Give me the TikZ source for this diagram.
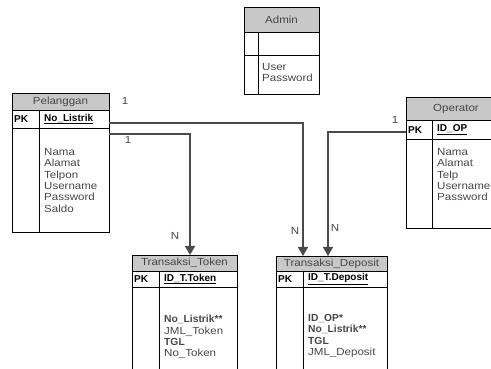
\documentclass[tikz,border=0pt]{standalone}
\usepackage{fontspec}
\newfontfamily\erfont[FakeStretch=1.12]{Liberation Sans}
\newfontfamily\erbold{Liberation Sans}
\usetikzlibrary{positioning, arrows.meta}
\definecolor{hdrgray}{RGB}{200,200,200}
\definecolor{ink}{RGB}{70,70,70}
\definecolor{linegray}{RGB}{75,75,75}

\begin{document}
\begin{tikzpicture}[x=1pt, y=-1pt,
  hdr/.style={draw, fill=hdrgray, anchor=north west, inner sep=0pt, outer sep=0pt,
              line width=0.8pt, font=\erfont\fontsize{10.3}{11}\selectfont, text=ink},
  row/.style={draw, anchor=north west, inner sep=0pt, outer sep=0pt, line width=0.8pt},
  key/.style={anchor=west, inner sep=0pt, font=\erbold\bfseries\fontsize{10}{11}\selectfont},
  attr/.style={anchor=north west, align=left, inner sep=0pt,
               font=\erfont\fontsize{10.3}{11.4}\selectfont, text=ink},
  rel/.style={draw=linegray, line width=1.4pt, -{Triangle[width=10pt,length=9pt]}},
  card/.style={font=\erfont\fontsize{10.3}{11}\selectfont, text=ink, inner sep=0pt},
]
  \useasboundingbox (0,0) rectangle (491,369);
  \clip (0,0) rectangle (491,369);

  % Admin
  \node[hdr, minimum width=75pt, minimum height=25pt] (adm) at (244,7) {Admin};
  \node[row, minimum width=75pt, minimum height=23pt] (admpk) at (adm.south west) {};
  \node[row, minimum width=75pt, minimum height=39pt] (admat) at (admpk.south west) {};
  \draw[line width=0.8pt] ([xshift=14pt]admpk.north west) -- ([xshift=14pt]admat.south west);
  \node[attr] (admtx) at (262,63) {User\\Password};

  % Pelanggan
  \node[hdr, minimum width=97pt, minimum height=17pt] (pel) at (12,93) {Pelanggan};
  \node[row, minimum width=97pt, minimum height=18pt] (pelpk) at (pel.south west) {};
  \node[row, minimum width=97pt, minimum height=104pt] (pelat) at (pelpk.south west) {};
  \draw[line width=0.8pt] ([xshift=27pt]pelpk.north west) -- ([xshift=27pt]pelat.south west);
  \node[key] (pelk) at (14,119) {PK};
  \node[key] (pelid) at (44,119) {\underline{No\_Listrik}};
  \node[attr] (peltx) at (44,148) {Nama\\Alamat\\Telpon\\Username\\Password\\Saldo};

  % Operator
  \node[hdr, minimum width=100pt, minimum height=23pt] (opr) at (406,97) {Operator};
  \node[row, minimum width=100pt, minimum height=19pt] (oprpk) at (opr.south west) {};
  \node[row, minimum width=100pt, minimum height=89pt] (oprat) at (oprpk.south west) {};
  \draw[line width=0.8pt] ([xshift=26pt]oprpk.north west) -- ([xshift=26pt]oprat.south west);
  \node[key] (oprk) at (408,130) {PK};
  \node[key] (oprid) at (437,130) {\underline{ID\_OP}};
  \node[attr] (oprtx) at (437,148) {Nama\\Alamat\\Telp\\Username\\Password};

  % Transaksi_Token
  \node[hdr, minimum width=105pt, minimum height=16pt] (tok) at (132,255) {Transaksi\_Token};
  \node[row, minimum width=105pt, minimum height=16pt] (tokpk) at (tok.south west) {};
  \node[row, minimum width=105pt, minimum height=100pt] (tokat) at (tokpk.south west) {};
  \draw[line width=0.8pt] ([xshift=27pt]tokpk.north west) -- ([xshift=27pt]tokat.south west);
  \node[key] (tokk) at (134,279) {PK};
  \node[key] (tokid) at (164,279) {\underline{ID\_T.Token}};
  \node[attr] (toktx) at (164,315) {{\erbold\bfseries No\_Listrik**}\\JML\_Token\\{\erbold\bfseries TGL}\\No\_Token};

  % Transaksi_Deposit
  \node[hdr, minimum width=111pt, minimum height=15pt] (dep) at (276,256) {Transaksi\_Deposit};
  \node[row, minimum width=111pt, minimum height=16pt] (deppk) at (dep.south west) {};
  \node[row, minimum width=111pt, minimum height=100pt] (depat) at (deppk.south west) {};
  \draw[line width=0.8pt] ([xshift=27pt]deppk.north west) -- ([xshift=27pt]depat.south west);
  \node[key] (depk) at (278,279) {PK};
  \node[key] (depid) at (308,279) {\underline{ID\_T.Deposit}};
  \node[attr] (deptx) at (308,314) {{\erbold\bfseries ID\_OP*}\\{\erbold\bfseries No\_Listrik**}\\{\erbold\bfseries TGL}\\JML\_Deposit};

  % relations
  \draw[rel] ([yshift=-4pt]pelpk.east) -| ([xshift=27pt]dep.north west);
  \draw[rel] ([yshift=-6pt]pelpk.south east) -| ([xshift=58pt]tok.north west);
  \draw[rel] ([yshift=-2.5pt]oprpk.west) -| ([xshift=52pt]dep.north west);

  % cardinalities
  \node[card] (c1) at (125,101) {1};
  \node[card] (c2) at (128,140) {1};
  \node[card] (c3) at (395,120) {1};
  \node[card] (n1) at (175,236) {N};
  \node[card] (n2) at (295,231) {N};
  \node[card] (n3) at (335,228) {N};
\end{tikzpicture}
\end{document}
